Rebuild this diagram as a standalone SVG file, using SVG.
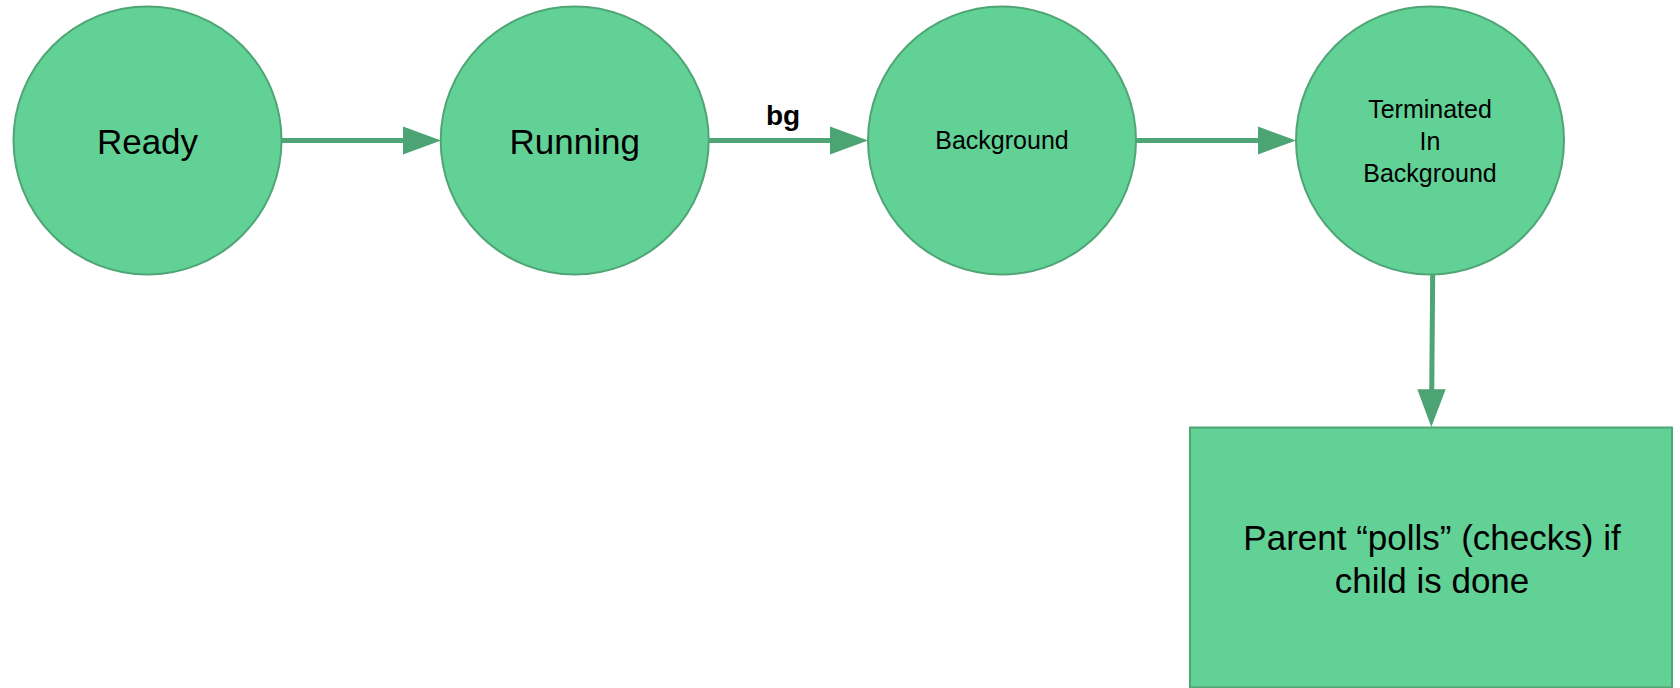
<svg xmlns="http://www.w3.org/2000/svg" width="1680" height="688" viewBox="0 0 1680 688">
<style>
.node{fill:#62d196;stroke:#4fa575;stroke-width:2}
.edge{stroke:#4fa575;stroke-width:5;fill:none}
.head{fill:#4ca373}
.t{font-family:"Liberation Sans",Arial,sans-serif;fill:#000;text-anchor:middle}
</style>
<rect width="1680" height="688" fill="#fff"/>
<g id="connectors">
<line class="edge" x1="282" y1="140.5" x2="410" y2="140.5"/>
<path class="head" d="M403,126.5 L441,140.5 L403,154.5 Z"/>
<line class="edge" x1="709" y1="140.5" x2="837" y2="140.5"/>
<path class="head" d="M830,126.5 L868,140.5 L830,154.5 Z"/>
<text class="t" x="783" y="125" font-size="28" font-weight="bold">bg</text>
<line class="edge" x1="1136" y1="140.5" x2="1265" y2="140.5"/>
<path class="head" d="M1258,126.5 L1296,140.5 L1258,154.5 Z"/>
<line class="edge" x1="1432.7" y1="272" x2="1431.7" y2="396"/>
<path class="head" d="M1417.3,389.3 L1431.3,427 L1445.7,389.3 Z"/>
</g>
<g id="ready">
<circle class="node" cx="147.5" cy="140.5" r="134"/>
<text class="t" x="147.5" y="154" font-size="35">Ready</text>
</g>
<g id="running">
<circle class="node" cx="574.7" cy="140.5" r="134"/>
<text class="t" x="574.7" y="154" font-size="35">Running</text>
</g>
<g id="background">
<circle class="node" cx="1002" cy="140.5" r="134"/>
<text class="t" x="1002" y="149" font-size="25">Background</text>
</g>
<g id="terminated">
<circle class="node" cx="1430" cy="140.5" r="134"/>
<text class="t" x="1430" y="118" font-size="25">Terminated</text>
<text class="t" x="1430" y="150" font-size="25">In</text>
<text class="t" x="1430" y="182" font-size="25">Background</text>
</g>
<g id="parent-polls">
<rect class="node" x="1190" y="427.5" width="482" height="260"/>
<text class="t" x="1432" y="550" font-size="35">Parent “polls” (checks) if</text>
<text class="t" x="1432" y="593" font-size="35">child is done</text>
</g>
</svg>
